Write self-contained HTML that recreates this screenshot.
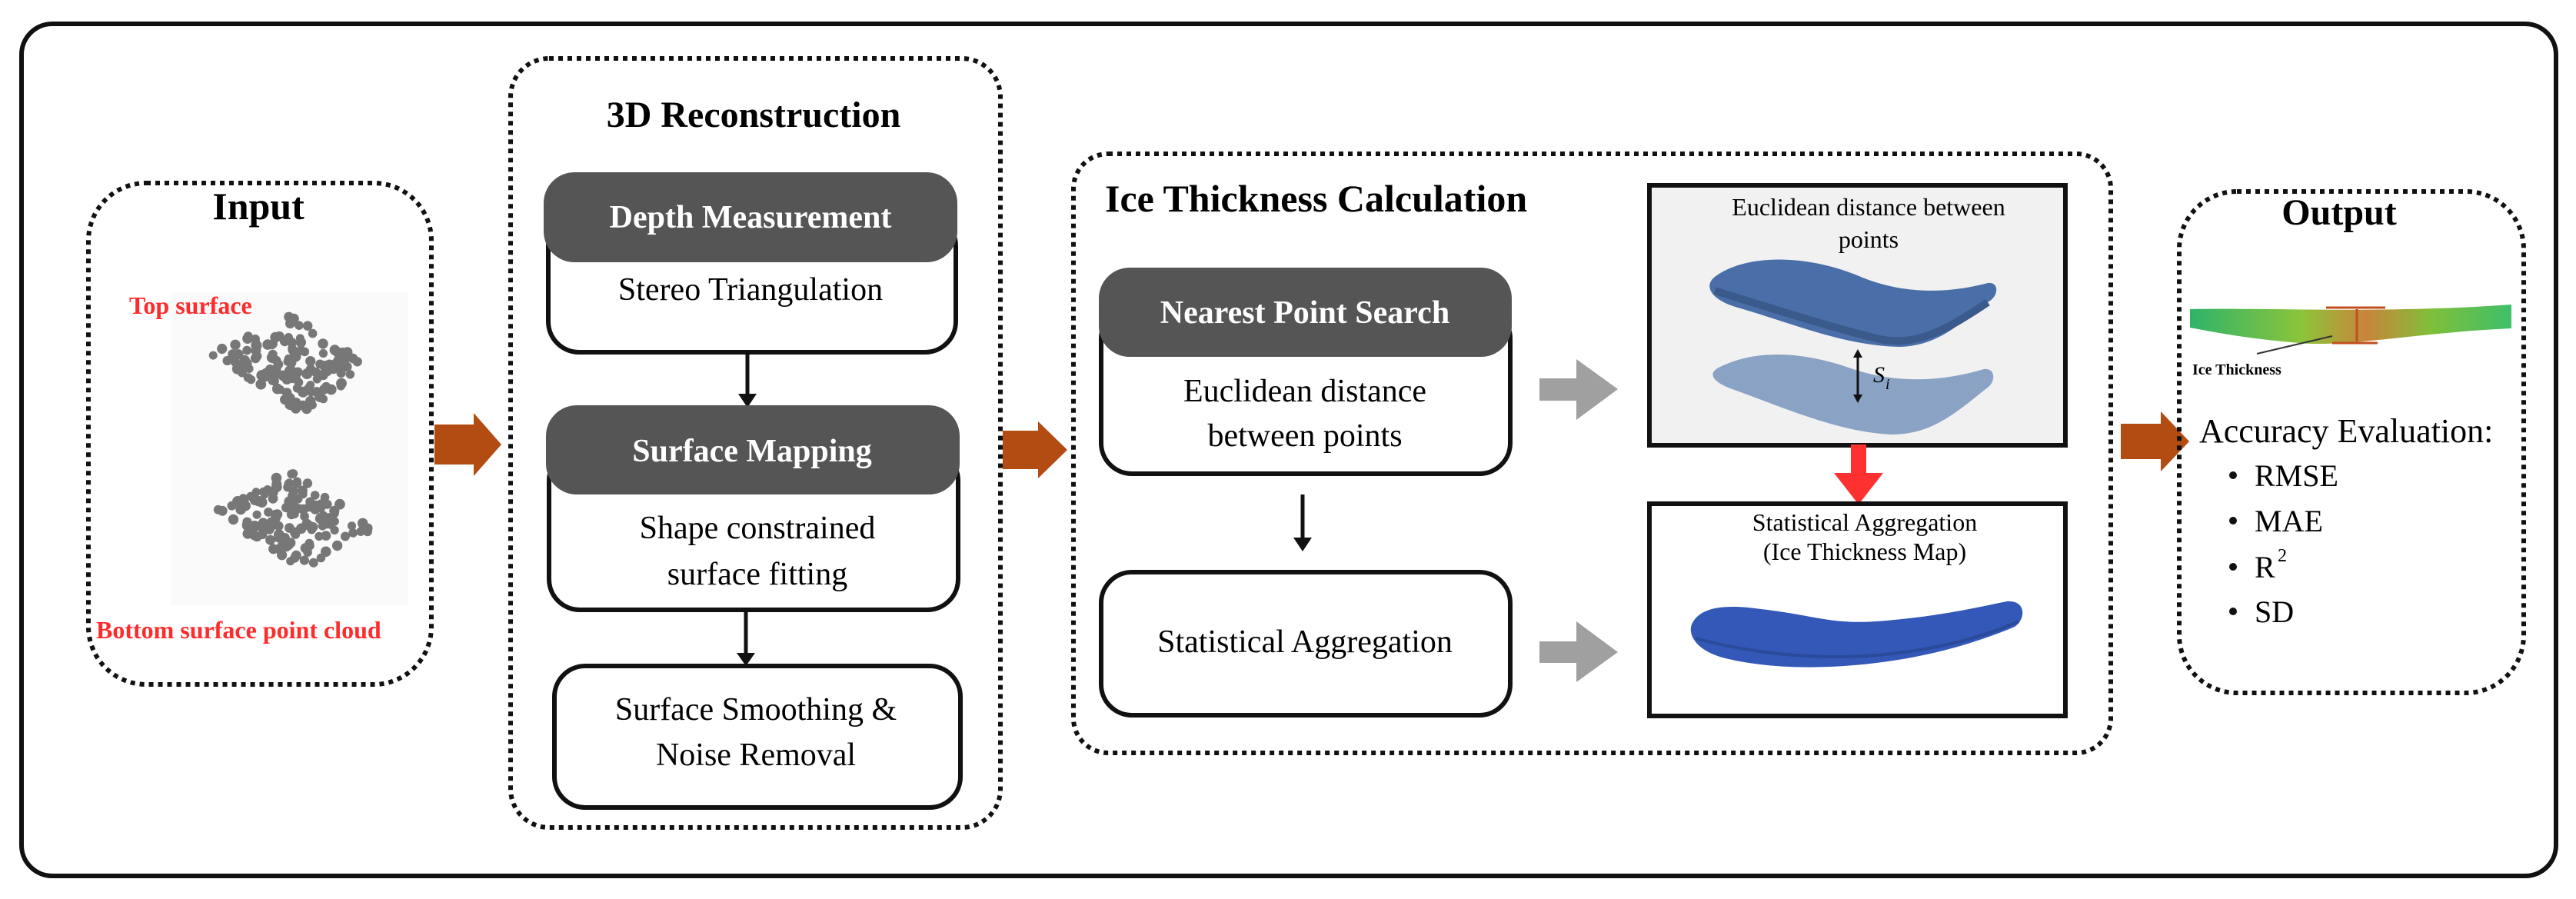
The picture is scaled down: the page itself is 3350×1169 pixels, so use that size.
<!DOCTYPE html>
<html><head><meta charset="utf-8"><style>
html,body{margin:0;padding:0;background:#fff;}
svg{display:block;}
svg text{font-family:"Liberation Serif","Times New Roman","Noto Serif CJK SC",serif;}
</style></head><body>
<svg id="s" width="3350" height="1169" viewBox="0 0 3350 1169" xmlns="http://www.w3.org/2000/svg" font-family="'Liberation Serif', 'Times New Roman', 'Noto Serif CJK SC', serif">
<defs>
<linearGradient id="gb" x1="0" x2="1"><stop offset="0" stop-color="#2fb36a"/><stop offset="0.35" stop-color="#8cc43a"/><stop offset="0.55" stop-color="#c8853a"/><stop offset="0.75" stop-color="#7fbf3a"/><stop offset="1" stop-color="#3fbf6a"/></linearGradient>
</defs>
<rect width="3350" height="1169" fill="#fff"/>
<rect x="28" y="31" width="3296" height="1108" rx="40" fill="none" stroke="#111" stroke-width="6"/>

<rect x="115" y="238" width="446" height="652" rx="75" fill="none" stroke="#111" stroke-width="6" stroke-dasharray="6 6"/>
<text x="336" y="285" font-size="50" font-weight="bold" text-anchor="middle">Input</text>
<rect x="223" y="380" width="308" height="407" fill="#fafafa"/>
<g id="c1" fill="#777"></g>
<text x="168" y="408" font-size="32" font-weight="bold" fill="#ff2a2a">Top surface</text>
<text x="125" y="830" font-size="32" font-weight="bold" fill="#ff2a2a">Bottom surface point cloud</text>

<polygon points="565,552 616,552 616,537 652,578 616,619 616,604 565,604" fill="#b24c12"/>
<polygon points="1304,560 1350,560 1350,548 1388,585 1350,622 1350,610 1304,610" fill="#b24c12"/>
<polygon points="2758,551 2810,551 2810,535 2847,574 2810,613 2810,597 2758,597" fill="#b24c12"/>

<rect x="664" y="76" width="637" height="1000" rx="50" fill="none" stroke="#111" stroke-width="6" stroke-dasharray="6 6"/>
<text x="980" y="165" font-size="48" font-weight="bold" text-anchor="middle">3D Reconstruction</text>

<rect x="713" y="280" width="530" height="178" rx="40" fill="#fff" stroke="#111" stroke-width="6"/>
<rect x="707" y="224" width="538" height="117" rx="40" fill="#555"/>
<text x="976" y="296" font-size="42" font-weight="bold" fill="#fff" text-anchor="middle">Depth Measurement</text>
<text x="976" y="390" font-size="42" text-anchor="middle">Stereo Triangulation</text>
<line x1="972" y1="459" x2="972" y2="515" stroke="#111" stroke-width="5"/>
<polygon points="960,512 984,512 972,530" fill="#111"/>

<rect x="714" y="585" width="532" height="208" rx="40" fill="#fff" stroke="#111" stroke-width="6"/>
<rect x="710" y="527" width="538" height="116" rx="40" fill="#555"/>
<text x="978" y="600" font-size="42" font-weight="bold" fill="#fff" text-anchor="middle">Surface Mapping</text>
<text x="985" y="700" font-size="42" text-anchor="middle">Shape constrained</text>
<text x="985" y="760" font-size="42" text-anchor="middle">surface fitting</text>
<line x1="970" y1="795" x2="970" y2="852" stroke="#111" stroke-width="5"/>
<polygon points="958,849 982,849 970,866" fill="#111"/>

<rect x="721" y="866" width="528" height="184" rx="40" fill="#fff" stroke="#111" stroke-width="6"/>
<text x="983" y="936" font-size="42" text-anchor="middle">Surface Smoothing &amp;</text>
<text x="983" y="995" font-size="42" text-anchor="middle">Noise Removal</text>

<rect x="1396" y="200" width="1349" height="779" rx="45" fill="none" stroke="#111" stroke-width="6" stroke-dasharray="6 6"/>
<text x="1437" y="275" font-size="50" font-weight="bold">Ice Thickness Calculation</text>

<rect x="1432" y="400" width="532" height="216" rx="40" fill="#fff" stroke="#111" stroke-width="6"/>
<rect x="1429" y="348" width="537" height="116" rx="40" fill="#555"/>
<text x="1697" y="420" font-size="42" font-weight="bold" fill="#fff" text-anchor="middle">Nearest Point Search</text>
<text x="1697" y="522" font-size="42" text-anchor="middle">Euclidean distance</text>
<text x="1697" y="580" font-size="42" text-anchor="middle">between points</text>
<line x1="1694" y1="643" x2="1694" y2="702" stroke="#111" stroke-width="5"/>
<polygon points="1682,699 1706,699 1694,717" fill="#111"/>

<rect x="1432" y="744" width="532" height="186" rx="40" fill="#fff" stroke="#111" stroke-width="6"/>
<text x="1697" y="848" font-size="42" text-anchor="middle">Statistical Aggregation</text>

<polygon points="2002,492 2050,492 2050,467 2104,506 2050,546 2050,521 2002,521" fill="#a0a0a0"/>
<polygon points="2002,834 2050,834 2050,808 2104,848 2050,887 2050,862 2002,862" fill="#a0a0a0"/>

<rect x="2145" y="241" width="541" height="338" fill="#f1f1f1" stroke="#111" stroke-width="6"/>
<text x="2430" y="280" font-size="32" text-anchor="middle">Euclidean distance between</text>
<text x="2430" y="322" font-size="32" text-anchor="middle">points</text>
<path d="M2230,360 C2270,330 2350,330 2420,360 C2480,385 2540,380 2585,368 C2600,366 2600,385 2585,393 C2550,420 2520,450 2470,451 C2400,450 2330,420 2260,400 C2225,390 2215,372 2230,360 Z" fill="#4a6fa8"/>
<path d="M2230,378 C2300,400 2380,425 2440,440 C2490,452 2530,430 2585,393" fill="none" stroke="#3b5a8c" stroke-width="10"/>
<path d="M2235,478 C2280,455 2340,455 2410,480 C2470,500 2530,495 2580,480 C2596,478 2596,498 2582,506 C2540,540 2510,565 2460,565 C2390,562 2320,530 2250,505 C2225,495 2222,485 2235,478 Z" fill="#8aa3c4"/>
<line x1="2416" y1="462" x2="2416" y2="516" stroke="#111" stroke-width="3"/>
<polygon points="2410,465 2422,465 2416,454" fill="#111"/>
<polygon points="2410,513 2422,513 2416,524" fill="#111"/>
<text x="2436" y="497" font-size="30" font-style="italic">S</text>
<text x="2452" y="506" font-size="20" font-style="italic">i</text>

<rect x="2407" y="578" width="20" height="40" fill="#ff3030"/>
<polygon points="2385,615 2449,615 2417,656" fill="#ff3030"/>

<rect x="2145" y="655" width="541" height="276" fill="#fff" stroke="#111" stroke-width="6"/>
<text x="2425" y="690" font-size="32" text-anchor="middle">Statistical Aggregation</text>
<text x="2425" y="728" font-size="32" text-anchor="middle">(Ice Thickness Map)</text>
<path d="M2200,812 C2210,790 2240,785 2290,792 C2360,800 2380,812 2440,808 C2520,802 2570,790 2610,782 C2635,780 2635,805 2620,815 C2560,840 2500,855 2440,862 C2360,872 2290,868 2240,855 C2205,845 2195,825 2200,812 Z" fill="#3358b8"/>
<path d="M2205,830 C2280,850 2360,858 2440,852 C2520,845 2580,828 2625,808" fill="none" stroke="#2a4a9a" stroke-width="4"/>

<rect x="2834" y="249" width="448" height="652" rx="75" fill="none" stroke="#111" stroke-width="6" stroke-dasharray="6 6"/>
<text x="3042" y="292" font-size="48" font-weight="bold" text-anchor="middle">Output</text>
<path d="M2848,402 C2950,400 3100,408 3266,396 L3266,427 C3150,432 3050,452 2990,446 C2920,440 2880,432 2848,426 Z" fill="url(#gb)"/>
<line x1="3025" y1="400" x2="3102" y2="400" stroke="#c0501f" stroke-width="3"/>
<line x1="3033" y1="446" x2="3092" y2="446" stroke="#c0501f" stroke-width="3"/>
<line x1="3065" y1="402" x2="3065" y2="444" stroke="#c0501f" stroke-width="3"/>
<line x1="2935" y1="460" x2="3033" y2="437" stroke="#333" stroke-width="2"/>
<text x="2851" y="487" font-size="20" font-weight="bold">Ice Thickness</text>
<text x="2860" y="575" font-size="44">Accuracy Evaluation:</text>
<circle cx="2904" cy="618" r="5" fill="#111"/><text x="2932" y="632" font-size="40">RMSE</text>
<circle cx="2904" cy="677" r="5" fill="#111"/><text x="2932" y="691" font-size="40">MAE</text>
<circle cx="2904" cy="737" r="5" fill="#111"/><text x="2932" y="751" font-size="40">R</text><text x="2962" y="730" font-size="24">2</text>
<circle cx="2904" cy="795" r="5" fill="#111"/><text x="2932" y="809" font-size="40">SD</text>
</svg>
<script>
(function(){
var ns="http://www.w3.org/2000/svg",g=document.getElementById("c1");
var seed=11;function r(){seed=(seed*16807)%2147483647;return seed/2147483647;}
[[383,471],[383,676]].forEach(function(c){
 var n=0;
 while(n<130){
  var u=r()*2-1,v=r()*2-1;
  if(Math.abs(u)+Math.abs(v)>1) continue;
  n++;
  var x=c[0]+u*108+v*10, y=c[1]+v*66+u*10;
  var e=document.createElementNS(ns,"circle");
  e.setAttribute("cx",x.toFixed(1));e.setAttribute("cy",y.toFixed(1));
  e.setAttribute("r",(5.5+r()*1.5).toFixed(1));g.appendChild(e);
 }
});
})();
</script>
</body></html>
